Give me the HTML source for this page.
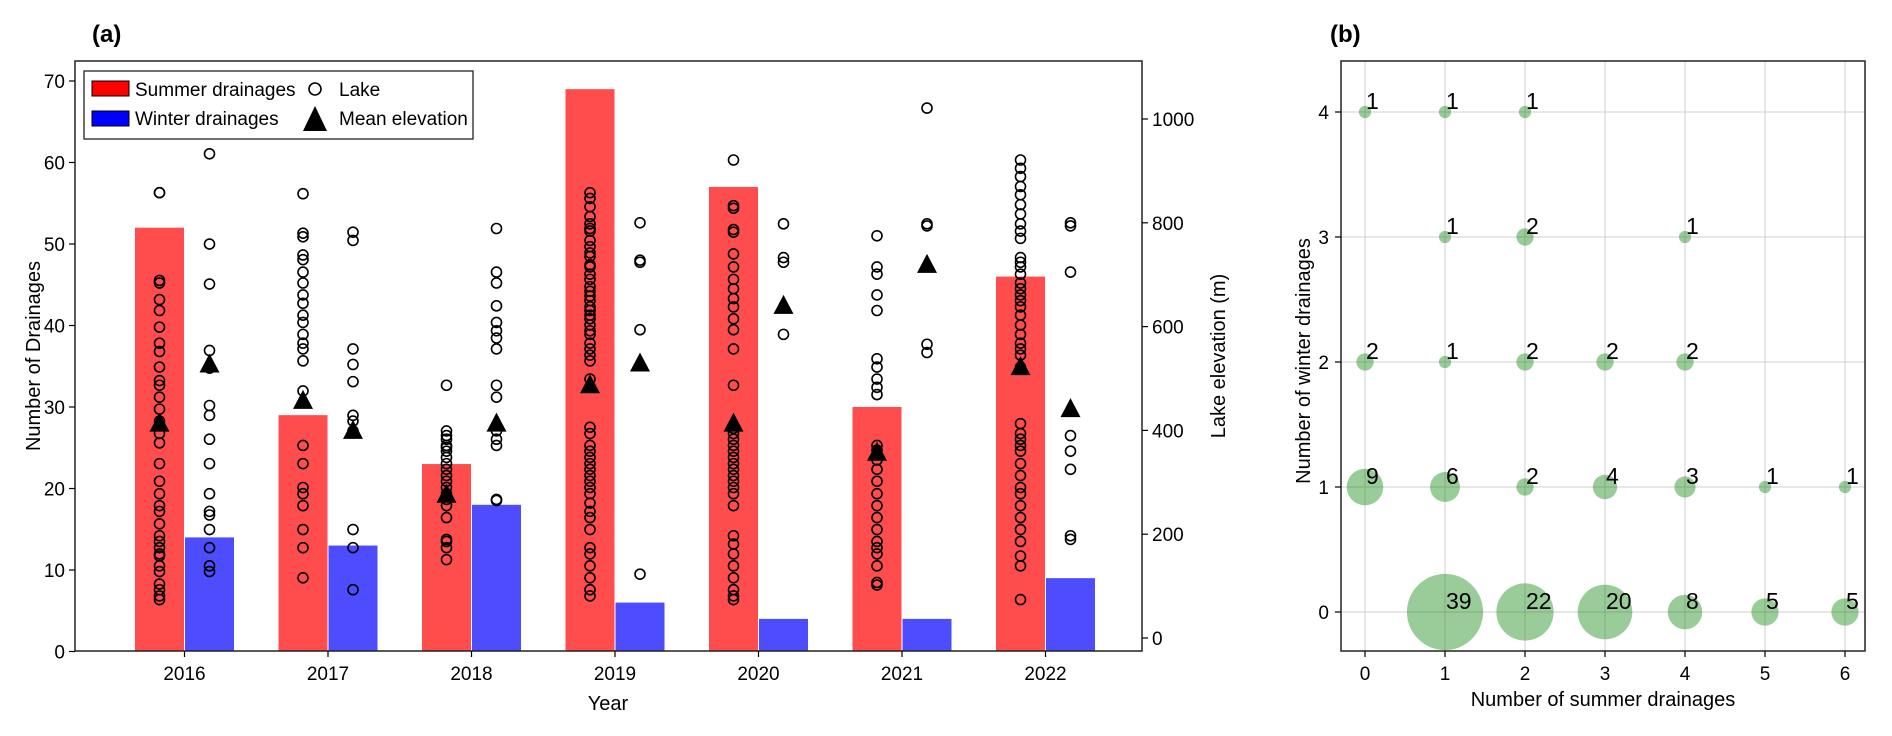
<!DOCTYPE html>
<html><head><meta charset="utf-8"><style>
html,body{margin:0;padding:0;background:#fff;}
svg{display:block;font-family:"Liberation Sans","DejaVu Sans",sans-serif;}
</style></head><body>
<svg id="chart" width="1892" height="736" viewBox="0 0 1892 736" xmlns="http://www.w3.org/2000/svg"></svg>
<script>
const years = ["2016","2017","2018","2019","2020","2021","2022"];
const summerCounts = [52,29,23,69,57,30,46];
const winterCounts = [14,13,18,6,4,4,9];
const summerLakes = [
 [858,858,689,684,652,631,599,568,552,522,496,487,464,441,418,394,376,336,302,278,255,244,220,197,186,174,162,158,139,128,104,93,81,74],
 [856,780,773,738,729,705,684,661,645,622,608,585,568,557,534,476,371,336,290,278,255,209,174,116],
 [487,399,390,383,371,367,360,348,336,325,313,302,290,278,267,255,232,190,186,174,151],
 [858,847,831,812,798,789,784,766,754,742,735,719,715,701,691,677,668,659,650,638,631,622,615,603,592,585,568,557,545,534,499,406,394,371,360,348,336,325,313,302,290,278,260,244,232,209,174,162,139,116,93,81],
 [921,833,828,787,782,740,715,691,673,654,638,615,594,557,487,404,394,383,371,360,348,336,325,313,302,290,278,255,197,181,162,139,116,93,81,74],
 [775,715,701,661,631,538,522,499,483,469,371,362,353,343,325,302,278,255,232,209,186,174,162,139,107,102],
 [921,905,889,870,854,835,817,798,784,770,733,724,715,701,684,673,661,650,638,622,603,585,568,557,545,522,413,394,383,371,360,336,313,290,278,255,232,209,186,158,139,74]
];
const winterLakes = [
 [933,759,682,554,520,448,429,383,336,278,244,237,209,174,139,128],
 [782,766,557,527,494,429,418,399,209,174,93],
 [789,705,684,640,608,592,578,557,487,464,399,383,371,267,265],
 [800,728,724,594,123],
 [798,733,724,585],
 [1021,798,794,566,550],
 [800,794,705,390,360,325,197,190]
];
const summerMean = [413,457,276,487,413,357,522];
const winterMean = [527,399,413,529,640,719,441];
const leftTicks = [0,10,20,30,40,50,60,70];
const rightTicks = [0,200,400,600,800,1000];
const bSummer = [0,1,2,1,2,4,0,1,2,3,4,0,1,2,3,4,5,6,1,2,3,4,5,6];
const bWinter = [4,4,4,3,3,3,2,2,2,2,2,1,1,1,1,1,1,1,0,0,0,0,0,0];
const bCount  = [1,1,1,1,2,1,2,1,2,2,2,9,6,2,4,3,1,1,39,22,20,8,5,5];
const bXTicks = [0,1,2,3,4,5,6];
const bYTicks = [0,1,2,3,4];

const NS="http://www.w3.org/2000/svg";
const svg=document.getElementById('chart');
function mk(tag,attrs,parent,text){const e=document.createElementNS(NS,tag);for(const k in attrs)e.setAttribute(k,attrs[k]);if(text!==undefined)e.textContent=text;(parent||svg).appendChild(e);return e;}

const A={l:75,r:1142,t:61,b:651};
const xA=i=>184+143.5*i;
const yL=v=>651.5-8.15*v;
const yR=m=>638-0.519*m;
const bw=49;

const gA=mk('g',{});


const pl=mk('text',{x:92,y:42,'font-size':24,'font-weight':'bold'},gA,'(a)');


years.forEach((y,i)=>{
  const s=mk('rect',{x:xA(i)-bw,y:yL(summerCounts[i]),width:bw,height:yL(0)-yL(summerCounts[i]),fill:'#ff4d4d'},gA);
  
  const w=mk('rect',{x:xA(i)+1,y:yL(winterCounts[i]),width:bw,height:yL(0)-yL(winterCounts[i]),fill:'#4d4dff'},gA);
  
});
years.forEach((y,i)=>{
  summerLakes[i].forEach(m=>{const c=mk('circle',{cx:xA(i)-24.5,cy:yR(m),r:5,fill:'none',stroke:'#000','stroke-width':1.6},gA);
    });
  winterLakes[i].forEach(m=>{const c=mk('circle',{cx:xA(i)+25.5,cy:yR(m),r:5,fill:'none',stroke:'#000','stroke-width':1.6},gA);
    });
});
function tri(cx,cy,name){const p=mk('polygon',{points:`${cx},${cy-11} ${cx-10},${cy+8} ${cx+10},${cy+8}`,fill:'#000'},gA);
  }
years.forEach((y,i)=>{tri(xA(i)-24.5,yR(summerMean[i]),'summer-mean-elevation');tri(xA(i)+25.5,yR(winterMean[i]),'winter-mean-elevation');});

const fA=mk('rect',{x:A.l,y:A.t,width:A.r-A.l,height:A.b-A.t,fill:'none',stroke:'#222','stroke-width':1.5},gA);

leftTicks.forEach(v=>{mk('line',{x1:A.l-6,x2:A.l,y1:yL(v),y2:yL(v),stroke:'#000','stroke-width':1.2},gA);
  const t=mk('text',{x:A.l-10,y:yL(v)+7,'font-size':19,'text-anchor':'end'},gA,String(v));
  });
rightTicks.forEach(v=>{mk('line',{x1:A.r,x2:A.r+6,y1:yR(v),y2:yR(v),stroke:'#000','stroke-width':1.2},gA);
  const t=mk('text',{x:A.r+10,y:yR(v)+7,'font-size':19},gA,String(v));
  });
years.forEach((y,i)=>{mk('line',{x1:xA(i)+0.5,x2:xA(i)+0.5,y1:A.b,y2:A.b+6,stroke:'#000','stroke-width':1.2},gA);
  const t=mk('text',{x:xA(i)+0.5,y:A.b+29,'font-size':19,'text-anchor':'middle'},gA,y);
  });
let t=mk('text',{x:608,y:710,'font-size':20,'text-anchor':'middle'},gA,'Year');

t=mk('text',{x:0,y:0,'font-size':20,'text-anchor':'middle',transform:'translate(40,356) rotate(-90)'},gA,'Number of Drainages');

t=mk('text',{x:0,y:0,'font-size':20,'text-anchor':'middle',transform:'translate(1225,356) rotate(-90)'},gA,'Lake elevation (m)');


const lg=mk('g',{},gA);
mk('rect',{x:84,y:71,width:389,height:68,fill:'#fff',stroke:'#222','stroke-width':1.3},lg);
let e=mk('rect',{x:92,y:81,width:37,height:15,fill:'#ff0000',stroke:'#000','stroke-width':1},lg);

mk('text',{x:135,y:96,'font-size':19},lg,'Summer drainages');
e=mk('rect',{x:92,y:111,width:37,height:15,fill:'#0000ff',stroke:'#000','stroke-width':1},lg);

mk('text',{x:135,y:125,'font-size':19},lg,'Winter drainages');
mk('circle',{cx:315,cy:89,r:6,fill:'none',stroke:'#000','stroke-width':1.6},lg);
mk('text',{x:339,y:96,'font-size':19},lg,'Lake');
mk('polygon',{points:'315,106 303,131 327,131',fill:'#000'},lg);
mk('text',{x:339,y:125,'font-size':19},lg,'Mean elevation');

const B={l:1341,r:1865,t:61,b:651};
const xB=v=>1365+80*v;
const yB=v=>612-125*v;
const gB=mk('g',{});
t=mk('text',{x:1330,y:42,'font-size':24,'font-weight':'bold'},gB,'(b)');

bXTicks.forEach(v=>mk('line',{x1:xB(v),x2:xB(v),y1:B.t,y2:B.b,stroke:'#d0d0d0','stroke-width':1},gB));
bYTicks.forEach(v=>mk('line',{x1:B.l,x2:B.r,y1:yB(v),y2:yB(v),stroke:'#d0d0d0','stroke-width':1},gB));
bCount.forEach((n,i)=>{const c=mk('circle',{cx:xB(bSummer[i]),cy:yB(bWinter[i]),r:6.1*Math.sqrt(n),fill:'rgba(0,128,0,0.4)'},gB);
  });
bCount.forEach((n,i)=>{const l=mk('text',{x:xB(bSummer[i])+1,y:yB(bWinter[i])-3,'font-size':23},gB,String(n));
  });
e=mk('rect',{x:B.l,y:B.t,width:B.r-B.l,height:B.b-B.t,fill:'none',stroke:'#222','stroke-width':1.5},gB);

bXTicks.forEach(v=>{mk('line',{x1:xB(v),x2:xB(v),y1:B.b,y2:B.b+6,stroke:'#000','stroke-width':1.2},gB);
  const l=mk('text',{x:xB(v),y:B.b+29,'font-size':19,'text-anchor':'middle'},gB,String(v));
  });
bYTicks.forEach(v=>{mk('line',{x1:B.l-6,x2:B.l,y1:yB(v),y2:yB(v),stroke:'#000','stroke-width':1.2},gB);
  const l=mk('text',{x:B.l-12,y:yB(v)+7,'font-size':19,'text-anchor':'end'},gB,String(v));
  });
t=mk('text',{x:1603,y:706,'font-size':20,'text-anchor':'middle'},gB,'Number of summer drainages');

t=mk('text',{x:0,y:0,'font-size':20,'text-anchor':'middle',transform:'translate(1310,361) rotate(-90)'},gB,'Number of winter drainages');

</script>
</body></html>
